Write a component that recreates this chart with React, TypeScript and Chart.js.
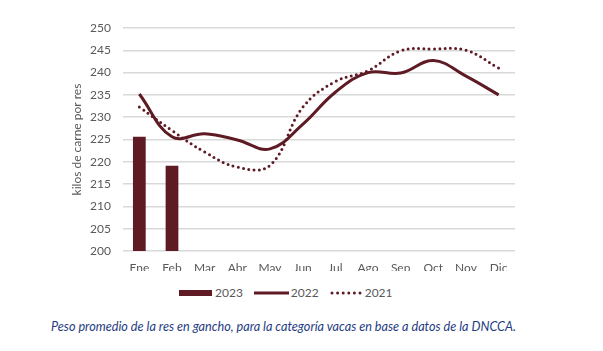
import React, { useEffect, useRef } from "react";
import { Chart, registerables } from "chart.js";

Chart.register(...registerables);

const months = ["Ene", "Feb", "Mar", "Abr", "May", "Jun", "Jul", "Ago", "Sep", "Oct", "Nov", "Dic"];
const values2023 = [225.6, 219.1, null, null, null, null, null, null, null, null, null, null];
const values2022 = [235.2, 225.6, 226.3, 224.9, 222.9, 228.4, 235.6, 240.0, 239.9, 242.7, 239.2, 235.0];
const values2021 = [232.3, 227.0, 222.2, 218.8, 219.2, 232.2, 238.0, 240.4, 244.9, 245.3, 245.0, 241.0];
const yTicks = [200, 205, 210, 215, 220, 225, 230, 235, 240, 245, 250];
const legendLabels = ["2023", "2022", "2021"];
const yTitle = "kilos de carne por res";
const caption = "Peso promedio de la res en gancho, para la categoría vacas en base a datos de la DNCCA.";

const WINE = "#5e1b24";
const GRAY = "#595959";
const FONT = "Lato, 'Liberation Sans', sans-serif";

export default function App() {
  const ref = useRef<HTMLCanvasElement | null>(null);

  useEffect(() => {
    if (!ref.current) return;
    const chart = new Chart(ref.current, {
      data: {
        labels: months,
        datasets: [
          {
            type: "bar",
            label: legendLabels[0],
            data: values2023,
            backgroundColor: WINE,
            borderWidth: 0,
            barPercentage: 0.39,
            categoryPercentage: 1,
            order: 3,
          },
          {
            type: "line",
            label: legendLabels[1],
            data: values2022,
            borderColor: WINE,
            borderWidth: 3,
            pointRadius: 0,
            tension: 0.4,
            fill: false,
            order: 2,
          },
          {
            type: "line",
            label: legendLabels[2],
            data: values2021,
            borderColor: WINE,
            borderWidth: 3,
            borderDash: [0, 5.3],
            borderCapStyle: "round",
            pointRadius: 0,
            tension: 0.4,
            fill: false,
            order: 1,
          },
        ],
      } as any,
      options: {
        animation: false,
        responsive: false,
        maintainAspectRatio: false,
        layout: { padding: { left: 66, right: 88, top: 28, bottom: 0 } },
        plugins: { legend: { display: false }, tooltip: { enabled: false } },
        scales: {
          x: {
            grid: { display: false, drawTicks: false },
            border: { display: false },
            ticks: { color: GRAY, font: { family: FONT, size: 12 }, padding: 10 },
            afterFit: (s: any) => {
              s.height = 20;
            },
          },
          y: {
            min: 200,
            max: 250,
            afterBuildTicks: (s: any) => {
              s.ticks = yTicks.map((v) => ({ value: v }));
            },
            grid: { color: "#d9d9d9", lineWidth: 1.5, drawTicks: false },
            border: { display: false },
            ticks: { color: GRAY, font: { family: FONT, size: 12 }, padding: 12 },
            title: { display: true, text: yTitle, color: GRAY, font: { family: FONT, size: 12 } },
            afterFit: (s: any) => {
              s.width = 57;
            },
          },
        },
      } as any,
    });
    return () => chart.destroy();
  }, []);

  const txt: React.CSSProperties = { fontFamily: FONT, fontSize: 12, color: GRAY, lineHeight: "14px" };

  return (
    <div style={{ position: "absolute", left: 0, top: 0, width: 603, height: 351, background: "#fff", overflow: "hidden" }}>
      <canvas ref={ref} width={603} height={271} style={{ position: "absolute", left: 0, top: 0, width: 603, height: 271 }} />
      <div style={{ position: "absolute", left: 179, top: 286, height: 14, display: "flex", alignItems: "center" }}>
        <svg width={34} height={14} style={{ display: "block" }}>
          <rect x={0} y={4} width={33} height={6} fill={WINE} />
        </svg>
        <span style={{ ...txt, marginLeft: 2 }}>{legendLabels[0]}</span>
        <svg width={35} height={14} style={{ display: "block", marginLeft: 11 }}>
          <line x1={0} y1={7} x2={35} y2={7} stroke={WINE} strokeWidth={3} />
        </svg>
        <span style={{ ...txt, marginLeft: 2 }}>{legendLabels[1]}</span>
        <svg width={32} height={14} style={{ display: "block", marginLeft: 11 }}>
          <line x1={2} y1={7} x2={31} y2={7} stroke={WINE} strokeWidth={3} strokeLinecap="round" strokeDasharray="0 5.6" />
        </svg>
        <span style={{ ...txt, marginLeft: 3 }}>{legendLabels[2]}</span>
      </div>
      <div
        style={{
          position: "absolute",
          left: 51,
          top: 319,
          fontFamily: FONT,
          fontStyle: "italic",
          fontSize: 12.65,
          color: "#1f3c82",
          whiteSpace: "nowrap",
          lineHeight: "16px",
        }}
      >
        {caption}
      </div>
    </div>
  );
}
